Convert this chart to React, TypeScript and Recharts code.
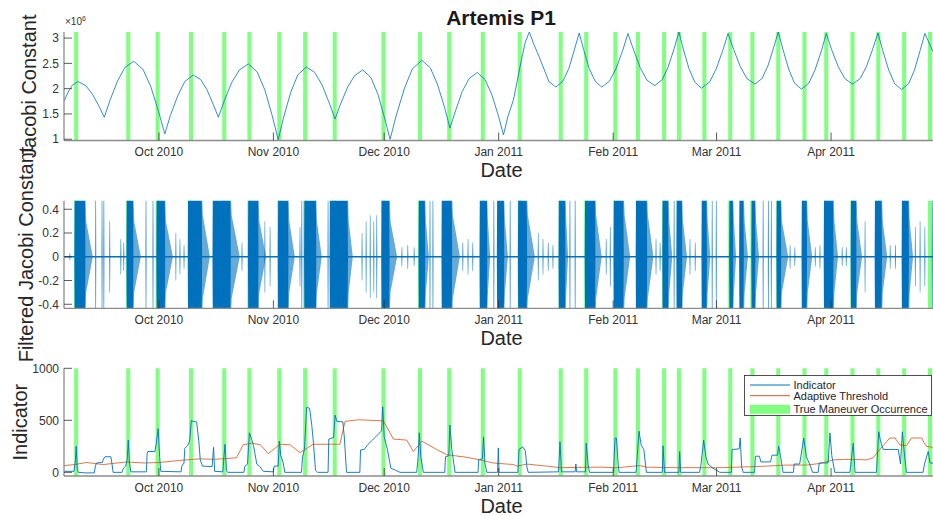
import React from "react";
import {
  ComposedChart,
  Line,
  Area,
  XAxis,
  YAxis,
  Legend,
} from "recharts";

const FONT = '"Liberation Sans", Arial, Helvetica, sans-serif';
const BLUE = "#0072BD";
const ORANGE = "#D95319";
const GREEN = "#80FF80";
const AXIS_COLOR = "#8c8c8c";
const TEXT_COLOR = "#333333";

// x values are days counted from 1 Oct 2010
const X_DOMAIN: [number, number] = [-25.7, 209.6];
const MONTH_TICKS = [0, 31, 61, 92, 123, 151, 182];
const MONTH_LABELS = ["Oct 2010", "Nov 2010", "Dec 2010", "Jan 2011", "Feb 2011", "Mar 2011", "Apr 2011"];

const MANEUVER_DAYS = [
  -22.4, -8.3, -0.35, 8.7, 17.7, 24.5, 32.6, 39.6, 47.6, 60.8, 70.7, 78.6, 87.7, 97.7, 108.8,
  115.7, 123.6, 129.7, 136.8, 140.8, 147.7, 154.7, 160.7, 167.7, 174.8, 180.7, 187.8, 194.8,
  201.8, 208.8,
];

// Jacobi constant, units of 1e6
const JACOBI: [number, number][] = [
  [-25.7, 1.75], [-24.6, 1.93], [-23.4, 2.07], [-21.9, 2.14],
  [-19.8, 2.06], [-18.0, 1.89], [-16.2, 1.65], [-14.8, 1.435],
  [-13.2, 1.78], [-11.2, 2.15], [-9.2, 2.42], [-6.8, 2.54],
  [-4.3, 2.38], [-2.2, 2.04], [-0.1, 1.55], [1.6, 1.105],
  [3.1, 1.47], [5.1, 1.86], [7.0, 2.14], [9.3, 2.27],
  [11.3, 2.18], [13.0, 1.98], [14.7, 1.69], [16.1, 1.435],
  [17.7, 1.76], [19.7, 2.12], [21.8, 2.37], [24.2, 2.49],
  [26.6, 2.33], [28.7, 1.97], [30.7, 1.46], [32.3, 0.99],
  [33.8, 1.44], [35.7, 1.93], [37.6, 2.27], [39.9, 2.43],
  [42.2, 2.32], [44.2, 2.07], [46.1, 1.72], [47.7, 1.4],
  [49.2, 1.7], [51.1, 2.03], [53.0, 2.26], [55.2, 2.37],
  [57.4, 2.22], [59.3, 1.89], [61.1, 1.42], [62.6, 1.0],
  [64.3, 1.48], [66.5, 2.01], [68.6, 2.39], [71.2, 2.56],
  [73.5, 2.41], [75.4, 2.09], [77.3, 1.64], [78.8, 1.22],
  [80.3, 1.56], [82.1, 1.94], [84.0, 2.2], [86.2, 2.32],
  [88.3, 2.18], [90.1, 1.89], [91.9, 1.47], [93.3, 1.085],
  [94.5, 1.45], [96.0, 1.78], [97.8, 2.44], [99.2, 2.92], [100.3, 3.12],
  [101.5, 2.88], [102.9, 2.64], [105.6, 2.14], [107.5, 2.03],
  [109.4, 2.15], [111.0, 2.4], [112.5, 2.77], [113.8, 3.1],
  [115.0, 2.77], [116.5, 2.4], [118.1, 2.15], [119.9, 2.03],
  [122.0, 2.15], [123.8, 2.4], [125.6, 2.76], [127.0, 3.09],
  [128.5, 2.77], [130.3, 2.42], [132.1, 2.17], [134.3, 2.06],
  [136.3, 2.18], [137.9, 2.43], [139.5, 2.79], [140.8, 3.12],
  [142.0, 2.78], [143.5, 2.4], [145.1, 2.13], [146.9, 2.01],
  [149.1, 2.13], [150.9, 2.39], [152.7, 2.76], [154.1, 3.09],
  [155.6, 2.78], [157.4, 2.44], [159.2, 2.2], [161.4, 2.09],
  [163.3, 2.2], [164.9, 2.45], [166.4, 2.8], [167.7, 3.12],
  [169.0, 2.77], [170.5, 2.39], [172.1, 2.11], [174.0, 1.99],
  [176.0, 2.11], [177.7, 2.38], [179.4, 2.75], [180.7, 3.09],
  [182.1, 2.78], [183.9, 2.44], [185.7, 2.2], [187.8, 2.09],
  [189.9, 2.2], [191.6, 2.44], [193.3, 2.79], [194.7, 3.1],
  [196.0, 2.75], [197.6, 2.37], [199.2, 2.1], [201.1, 1.98],
  [203.0, 2.1], [204.6, 2.37], [206.1, 2.75], [207.4, 3.09],
  [209.6, 2.73],
];

// filtered Jacobi constant: saturated bursts [start, end, tail amplitude, tail end]
const FJC_BLOCKS: [number, number, number, number][] = [
  [-22.8, -20.0, 0.3, -17.9], [-8.7, -7.0, 0.3, -4.9], [-0.6, 1.6, 0.3, 3.8],
  [7.9, 11.6, 0.35, 13.8], [14.6, 19.4, 0.35, 21.9], [24.2, 26.9, 0.3, 29.0],
  [32.3, 35.0, 0.3, 36.8], [39.4, 42.5, 0.3, 44.1], [46.3, 51.1, 0.3, 52.5],
  [60.3, 62.4, 0.3, 64.5], [70.4, 72.0, 0.3, 73.1], [76.6, 79.3, 0.35, 81.5],
  [86.9, 88.8, 0.3, 89.7], [91.6, 93.4, 0.3, 94.5], [97.3, 99.6, 0.35, 101.8],
  [108.3, 110.0, 0.3, 110.8], [115.4, 118.1, 0.35, 119.9], [123.2, 125.8, 0.35, 127.6],
  [129.2, 132.1, 0.35, 133.9], [136.4, 137.9, 0.3, 139.0], [140.2, 141.6, 0.3, 143.0],
  [147.0, 148.3, 0.3, 149.3], [154.5, 155.4, 0.3, 156.3], [157.2, 158.3, 0.3, 159.5],
  [160.5, 161.4, 0.3, 162.5], [167.3, 168.4, 0.3, 170.4], [174.1, 175.4, 0.3, 176.9],
  [180.1, 182.6, 0.3, 183.9], [187.4, 188.8, 0.3, 190.4], [193.9, 195.7, 0.3, 197.2],
  [201.2, 203.0, 0.3, 204.2],
];

// filtered Jacobi constant: isolated spikes [day, amplitude]
const FJC_SPIKES: [number, number][] = [
  [-24.1, 0.03], [-17.1, 0.6], [-15.4, 0.6], [-14.9, 0.6], [-13.3, 0.3], [-10.3, 0.15],
  [-9.5, 0.12], [-3.5, 0.6], [-1.6, 0.6], [4.6, 0.2], [5.7, 0.15], [6.8, 0.1], [22.5, 0.12],
  [28.7, 0.3], [30.1, 0.25], [38.2, 0.25], [38.7, 0.6], [45.8, 0.6], [55.0, 0.2], [56.1, 0.3],
  [57.2, 0.35], [58.2, 0.3], [59.0, 0.35], [65.8, 0.08], [67.4, 0.1], [69.1, 0.08],
  [73.4, 0.6], [74.2, 0.6], [82.3, 0.12], [83.7, 0.15], [85.0, 0.12], [90.7, 0.6],
  [95.1, 0.6], [102.7, 0.2], [104.0, 0.15], [105.4, 0.12], [106.7, 0.1], [111.3, 0.6],
  [112.7, 0.6], [121.1, 0.15], [122.2, 0.25], [134.6, 0.15], [135.7, 0.12], [139.5, 0.6],
  [143.8, 0.15], [145.2, 0.12], [149.8, 0.6], [150.9, 0.6], [163.6, 0.6], [165.0, 0.6],
  [165.8, 0.6], [170.9, 0.1], [172.2, 0.08], [177.7, 0.08], [179.0, 0.1], [185.0, 0.08],
  [186.1, 0.08], [191.2, 0.3], [198.0, 0.1], [199.4, 0.1], [204.8, 0.25], [206.1, 0.3],
  [207.4, 0.25], [209.4, 0.6],
];

const INDICATOR: [number, number][] = [
  [-25.7, 10], [-23.0, 10], [-22.6, 120], [-22.4, 250], [-22.1, 30], [-21.8, 0], [-20, -5],
  [-17.5, -5], [-17.2, 60], [-16.9, 90], [-15.3, 95], [-15.0, 130], [-14.6, 150], [-13.0, 150],
  [-12.7, 80], [-12.4, 0], [-10.0, 0], [-9.6, 40], [-9.0, 60], [-8.6, 120], [-8.3, 310],
  [-8.0, 100], [-7.6, 5], [-3.4, 5], [-3.2, 180], [-3.0, 200], [-1.1, 200], [-0.8, 260],
  [-0.2, 420], [0.2, 150], [0.5, 10], [6.0, 5], [6.2, 60], [6.8, 90], [7.0, 230], [7.8, 260],
  [8.3, 300], [8.8, 500], [9.2, 490], [10.2, 485], [10.8, 300], [11.2, 120], [11.8, 60],
  [14.4, 55], [14.8, 240], [15.1, 10], [17.3, 5], [17.6, 150], [17.9, 270], [18.3, 20],
  [18.6, 0], [23.0, 0], [23.3, 60], [24.0, 80], [24.5, 380], [24.9, 340], [25.6, 260],
  [26.5, 80], [27.2, 60], [28.3, 10], [31.0, 5], [31.2, 60], [32.3, 60], [32.6, 300],
  [33.0, 160], [33.6, 100], [34.1, 0], [38.6, 0], [38.9, 150], [39.4, 220], [40.0, 625],
  [40.8, 615], [41.4, 450], [41.8, 300], [42.4, 20], [43.0, 0], [45.8, 0], [46.0, 320],
  [47.3, 335], [47.7, 550], [48.2, 490], [49.8, 485], [50.2, 340], [50.8, 0], [54.4, 0],
  [54.6, 215], [55.6, 220], [56.5, 265], [57.8, 310], [59.2, 360], [60.3, 400], [60.6, 630],
  [61.0, 340], [61.9, 215], [62.8, 40], [65.3, 0], [69.8, 0], [70.2, 150], [70.5, 380],
  [70.9, 150], [71.6, 0], [77.4, 0], [77.6, 150], [78.5, 160], [78.8, 455], [79.3, 220],
  [80.2, 0], [86.4, 0], [86.6, 120], [87.6, 130], [87.9, 340], [88.3, 80], [88.8, 0],
  [91.7, 0], [91.9, 235], [92.1, 0], [97.2, 0], [97.5, 220], [98.5, 245], [99.2, 210],
  [99.6, 60], [100.0, 0], [108.2, 5], [108.6, 295], [109.0, 5], [112.7, 5], [112.9, 80],
  [113.1, 5], [115.5, 5], [115.7, 280], [116.2, 80], [116.6, 0], [123.1, 0], [123.5, 330],
  [123.9, 330], [124.3, 100], [124.6, 0], [129.2, 0], [130.0, 395], [130.6, 260], [131.3, 220],
  [132.0, 0], [136.3, 0], [136.5, 255], [136.9, 0], [140.8, 0], [141.0, 200], [141.3, 0],
  [146.4, 0], [146.8, 80], [147.5, 310], [148.1, 150], [148.7, 80], [150.0, 40], [151.9, 0],
  [155.0, 0], [155.2, 220], [157.1, 225], [157.4, 330], [157.8, 50], [158.2, 0], [161.3, 0],
  [161.5, 155], [162.6, 155], [163.0, 100], [165.6, 100], [166.0, 165], [167.5, 165],
  [167.8, 250], [168.3, 160], [169.0, 0], [171.8, 0], [172.0, 80], [173.5, 80], [174.6, 330],
  [175.3, 150], [176.2, 80], [177.0, 0], [178.5, 0], [178.8, 90], [181.2, 90], [181.7, 380],
  [182.2, 160], [183.0, 0], [187.1, 0], [188.0, 280], [188.5, 0], [194.3, 0], [194.9, 390],
  [195.4, 300], [196.1, 220], [200.2, 220], [200.8, 80], [201.3, 390], [201.7, 230],
  [202.4, 0], [206.9, 0], [207.3, 80], [208.3, 200], [208.8, 90], [209.6, 90],
];

const THRESHOLD: [number, number][] = [
  [-25.7, 65], [-22.8, 75], [-19.6, 95], [-15.1, 75], [-8.8, 100], [-4.0, 90], [0.2, 95],
  [5.7, 115], [11.1, 130], [15.0, 125], [21.0, 140], [22.8, 265], [25.1, 280], [27.5, 265],
  [29.6, 180], [32.8, 270], [35.5, 265], [38.2, 190], [41.8, 270], [49.0, 270], [50.4, 490],
  [54.0, 505], [60.8, 495], [63.5, 320], [67.1, 310], [68.9, 200], [71.2, 300], [75.2, 220],
  [77.9, 170], [83.3, 145], [86.9, 120], [90.5, 90], [96.0, 75], [97.0, 60], [99.6, 80],
  [105.0, 60], [108.6, 45], [119.4, 50], [124.0, 45], [130.2, 65], [132.0, 50], [140.0, 45],
  [152.0, 45], [160.9, 55], [164.5, 60], [169.9, 70], [175.3, 70], [178.9, 85], [182.6, 120],
  [186.2, 125], [191.6, 120], [193.4, 140], [195.2, 220], [197.9, 330], [199.3, 330],
  [200.6, 265], [202.4, 255], [203.8, 330], [206.5, 330], [207.8, 250], [209.6, 240],
];

const LEGEND_ITEMS = [
  { label: "Indicator", color: BLUE, kind: "line" },
  { label: "Adaptive Threshold", color: ORANGE, kind: "line" },
  { label: "True Maneuver Occurrence", color: GREEN, kind: "patch" },
];

const SAT = 0.6;
const BASE = 0.007;
const STRIPE_HALF = 0.55; // half width of a maneuver stripe, in days

const jacobiRows = JACOBI.map(([d, v]) => ({ d, v }));
const indicatorRows = INDICATOR.map(([d, v]) => ({ d, v }));
const thresholdRows = THRESHOLD.map(([d, v]) => ({ d, v }));

// maneuver stripes as a range area: on = full height, off = collapsed below the axis
const stripeRows = MANEUVER_DAYS.flatMap((d) => [
  { d: d - STRIPE_HALF, on: 0 },
  { d: d - STRIPE_HALF, on: 1 },
  { d: d + STRIPE_HALF, on: 1 },
  { d: d + STRIPE_HALF, on: 0 },
]);

const coreRows = (() => {
  const pts: { d: number; a: number }[] = [
    { d: X_DOMAIN[0], a: BASE },
    { d: X_DOMAIN[1], a: BASE },
  ];
  FJC_BLOCKS.forEach(([s, e]) => {
    pts.push({ d: s - 0.1, a: BASE }, { d: s, a: SAT }, { d: e, a: SAT }, { d: e + 0.1, a: BASE });
  });
  FJC_SPIKES.forEach(([d, amp]) => {
    pts.push({ d: d - 0.12, a: BASE }, { d: d - 0.06, a: amp }, { d: d + 0.06, a: amp }, { d: d + 0.12, a: BASE });
  });
  return pts.sort((p, q) => p.d - q.d);
})();

const tailRows = (() => {
  const pts: { d: number; a: number }[] = [];
  FJC_BLOCKS.forEach(([, e, amp, t]) => {
    pts.push({ d: e - 0.01, a: 0 }, { d: e, a: SAT }, { d: e + 0.3, a: amp }, { d: t, a: 0 });
  });
  return pts.sort((p, q) => p.d - q.d);
})();

const tickStyle = { fill: TEXT_COLOR, fontSize: 12, fontFamily: FONT };

const yLabel = (text: string, bx: number) => (props: any) => {
  const vb = props.viewBox;
  const cy = vb.y + vb.height / 2;
  return (
    <text
      x={bx}
      y={cy}
      transform={`rotate(-90 ${bx} ${cy})`}
      textAnchor="middle"
      fontSize={20}
      fontFamily={FONT}
      fill="#262626"
    >
      {text}
    </text>
  );
};

const dateLabel = (props: any) => {
  const vb = props.viewBox;
  return (
    <text
      x={vb.x + vb.width / 2 + 3}
      y={vb.y + 36.5}
      textAnchor="middle"
      fontSize={20}
      fontFamily={FONT}
      fill="#262626"
    >
      Date
    </text>
  );
};

const jacobiYLabel = (props: any) => {
  const vb = props.viewBox;
  return (
    <g>
      {yLabel("Jacobi Constant", 36)(props)}
      <text x={65} y={vb.y - 7} fontSize={10} fontFamily={FONT} fill={TEXT_COLOR}>
        ×10<tspan dy={-4} fontSize={7}>6</tspan>
      </text>
    </g>
  );
};

const renderXAxis = (height: number) => (
  <XAxis
    type="number"
    dataKey="d"
    domain={X_DOMAIN}
    allowDataOverflow
    ticks={MONTH_TICKS}
    interval={0}
    tickFormatter={(v: number) => MONTH_LABELS[MONTH_TICKS.indexOf(v)]}
    height={height}
    tickSize={-8}
    tickMargin={15}
    tick={tickStyle}
    tickLine={{ stroke: "#333", strokeWidth: 0.8 }}
    axisLine={{ stroke: AXIS_COLOR, strokeWidth: 1.3 }}
    label={dateLabel}
  />
);

const renderYAxis = (domain: [number, number], ticks: number[], label: any) => (
  <YAxis
    type="number"
    domain={domain}
    allowDataOverflow
    ticks={ticks}
    interval={0}
    width={64}
    tickSize={-8}
    tickMargin={13}
    tick={tickStyle}
    tickLine={{ stroke: "#333", strokeWidth: 0.8 }}
    axisLine={{ stroke: AXIS_COLOR, strokeWidth: 1.3 }}
    label={label}
  />
);

const renderStripes = (domain: [number, number]) => {
  const span = domain[1] - domain[0];
  const lo = domain[0] - span;
  const hi = domain[1] + span;
  return (
    <Area
      data={stripeRows}
      type="linear"
      dataKey={(r: any) => (r.on ? [lo, hi] : [lo, lo])}
      stroke="none"
      fill={GREEN}
      fillOpacity={1}
      isAnimationActive={false}
    />
  );
};

const renderLegend = () => (
  <svg width={188} height={41} style={{ display: "block" }}>
    <rect x={0.5} y={0.5} width={187} height={40} fill="#fff" stroke="#262626" strokeWidth={0.8} />
    {LEGEND_ITEMS.map((item, i) => {
      const y = [10, 20.7, 34.3][i];
      return (
        <g key={item.label}>
          {item.kind === "line" ? (
            <line x1={6} x2={46} y1={y} y2={y} stroke={item.color} strokeWidth={1} />
          ) : (
            <rect x={6} y={y - 4.5} width={40} height={9} fill={item.color} />
          )}
          <text x={49.5} y={y + 4} fontSize={11} fontFamily={FONT} fill="#262626">
            {item.label}
          </text>
        </g>
      );
    })}
  </svg>
);

const J_DOMAIN: [number, number] = [0.975, 3.12];
const F_DOMAIN: [number, number] = [-0.434, 0.472];
const I_DOMAIN: [number, number] = [-35, 1000];

export default function App() {
  return (
    <div
      style={{
        position: "absolute",
        left: 0,
        top: 0,
        width: 933,
        height: 516,
        background: "#fff",
        overflow: "hidden",
        fontFamily: FONT,
      }}
    >
      <style>{".recharts-surface{overflow:visible}"}</style>
      <div
        style={{
          position: "absolute",
          left: 501,
          top: 7,
          transform: "translateX(-50%)",
          fontSize: 21,
          lineHeight: "21px",
          fontWeight: "bold",
          color: "#1a1a1a",
          whiteSpace: "nowrap",
        }}
      >
        Artemis P1
      </div>

      <div style={{ position: "absolute", left: 0, top: 0 }}>
        <ComposedChart width={933} height={180} data={jacobiRows} margin={{ top: 32, right: 0, bottom: 0, left: 0 }}>
          {renderXAxis(39.5)}
          {renderYAxis(J_DOMAIN, [1, 1.5, 2, 2.5, 3], jacobiYLabel)}
          {renderStripes(J_DOMAIN)}
          <Line
            data={jacobiRows}
            type="linear"
            dataKey="v"
            stroke={BLUE}
            strokeWidth={0.8}
            dot={false}
            isAnimationActive={false}
          />
        </ComposedChart>
      </div>

      <div style={{ position: "absolute", left: 0, top: 180 }}>
        <ComposedChart width={933} height={166} margin={{ top: 20.7, right: 0, bottom: 0, left: 0 }}>
          {renderXAxis(37.7)}
          {renderYAxis(F_DOMAIN, [-0.4, -0.2, 0, 0.2, 0.4], yLabel("Filtered Jacobi Constant", 33))}
          {renderStripes(F_DOMAIN)}
          <Area
            data={tailRows}
            type="linear"
            dataKey={(r: any) => [-r.a, r.a]}
            stroke="none"
            fill={BLUE}
            fillOpacity={0.6}
            isAnimationActive={false}
          />
          <Area
            data={coreRows}
            type="linear"
            dataKey={(r: any) => [-r.a, r.a]}
            stroke="none"
            fill={BLUE}
            fillOpacity={1}
            isAnimationActive={false}
          />
        </ComposedChart>
      </div>

      <div style={{ position: "absolute", left: 0, top: 346 }}>
        <ComposedChart width={933} height={170} margin={{ top: 22.3, right: 0, bottom: 0, left: 0 }}>
          {renderXAxis(40)}
          {renderYAxis(I_DOMAIN, [0, 500, 1000], yLabel("Indicator", 27))}
          {renderStripes(I_DOMAIN)}
          <Line
            data={thresholdRows}
            type="linear"
            dataKey="v"
            name="Adaptive Threshold"
            stroke={ORANGE}
            strokeWidth={0.8}
            dot={false}
            isAnimationActive={false}
          />
          <Line
            data={indicatorRows}
            type="linear"
            dataKey="v"
            name="Indicator"
            stroke={BLUE}
            strokeWidth={0.9}
            dot={false}
            isAnimationActive={false}
          />
          <Legend
            content={renderLegend}
            verticalAlign="middle"
            align="center"
            wrapperStyle={{ left: 744, top: 29, width: 188, height: 41 }}
          />
        </ComposedChart>
      </div>
    </div>
  );
}
